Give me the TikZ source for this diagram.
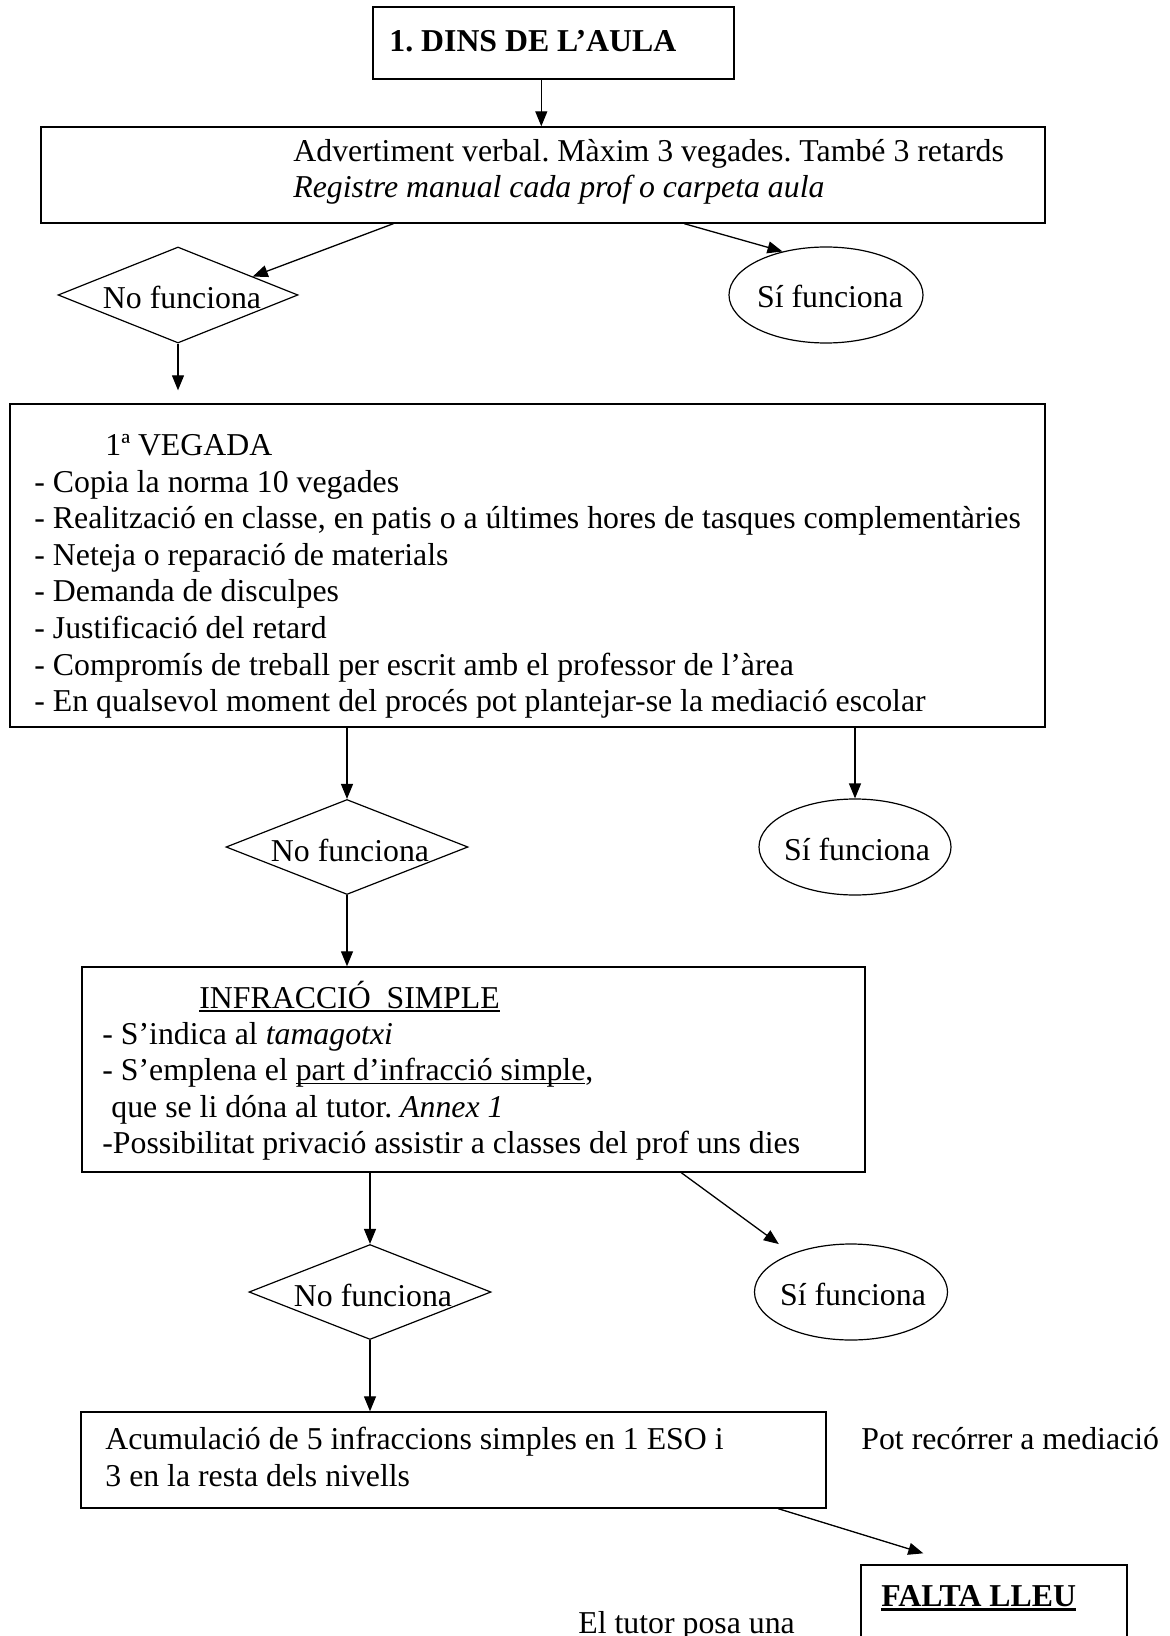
\documentclass[tikz,border=0pt]{standalone}
\usepackage{fontspec}
\setmainfont{Liberation Serif}
\usetikzlibrary{shapes.geometric,arrows.meta,calc}
\frenchspacing
\newcommand\myul[1]{\leavevmode\setbox0=\hbox{#1}\rlap{\rule[-1.8pt]{\wd0}{0.7pt}}\box0}
\newcommand\myulb[1]{\leavevmode\setbox0=\hbox{#1}\rlap{\rule[-2.6pt]{\wd0}{1.4pt}}\box0}
\tikzset{
  every node/.style={font=\fontsize{15.9pt}{18.35pt}\selectfont},
  box/.style={draw, rectangle, line width=0.7pt, inner sep=0pt},
  dec/.style={draw, diamond, line width=0.6pt, inner sep=0pt},
  oval/.style={draw, ellipse, line width=0.6pt, inner sep=0pt},
  txt/.style={anchor=base west, inner sep=0pt},
  ctxt/.style={anchor=base, inner sep=0pt},
  arr/.style={line width=0.65pt, -{Triangle[length=7.5pt,width=6pt]}}
}
\begin{document}
\begin{tikzpicture}[x=0.5pt,y=-0.5pt]
\fill[white] (0,0) rectangle (1170,1636);
\useasboundingbox (0,0) rectangle (1170,1636);

% boxes
\node[box, minimum width=180.5pt, minimum height=36pt] (b1) at (553.5,43) {};
\node[box, minimum width=502pt, minimum height=48pt] (b2) at (543,175) {};
\node[box, minimum width=517.5pt, minimum height=161.5pt] (b3) at (527.5,565.5) {};
\node[box, minimum width=391.5pt, minimum height=102.5pt] (b4) at (473.5,1069.5) {};
\node[box, minimum width=372.5pt, minimum height=48pt] (b5) at (453.5,1460) {};
\node[box, minimum width=133pt, minimum height=77.5pt] (b6) at (994,1642.5) {};

% decisions
\node[dec, minimum width=120pt, minimum height=48pt] (d1) at (178,295) {};
\node[dec, minimum width=121pt, minimum height=47.5pt] (d2) at (347,847) {};
\node[dec, minimum width=121pt, minimum height=47.5pt] (d3) at (370,1292) {};

% ellipses
\node[oval, minimum width=97pt, minimum height=48pt] (e1) at (826,295) {};
\node[oval, minimum width=96pt, minimum height=48pt] (e2) at (855,847) {};
\node[oval, minimum width=96.5pt, minimum height=48pt] (e3) at (851,1292) {};

% texts
\node[txt] (t1) at (389,52) {\bfseries 1. DINS DE L’AULA};
\node[txt] (t2a) at (293,162) {Advertiment verbal. Màxim 3 vegades. També 3 retards};
\node[txt] (t2b) at (293,198) {\itshape Registre manual cada prof o carpeta aula};

\node[ctxt] (nd1) at (182,309) {No funciona};
\node[ctxt] (nd2) at (350,861) {No funciona};
\node[ctxt] (nd3) at (373,1306) {No funciona};
\node[ctxt] (ne1) at (830,308) {Sí funciona};
\node[ctxt] (ne2) at (857,860) {Sí funciona};
\node[ctxt] (ne3) at (853,1305) {Sí funciona};

\node[txt] (l0) at (105,455) {1ª VEGADA};
\node[txt] (l1) at (34,492) {- Copia la norma 10 vegades};
\node[txt] (l2) at (34,528.6) {- Realització en classe, en patis o a últimes hores de tasques complementàries};
\node[txt] (l3) at (34,565.2) {- Neteja o reparació de materials};
\node[txt] (l4) at (34,601.8) {- Demanda de disculpes};
\node[txt] (l5) at (34,638.4) {- Justificació del retard};
\node[txt] (l6) at (34,675) {- Compromís de treball per escrit amb el professor de l’àrea};
\node[txt] (l7) at (34,711.6) {- En qualsevol moment del procés pot plantejar-se la mediació escolar};

\node[txt] (m0) at (199,1008) {\myul{INFRACCIÓ\ \ SIMPLE}};
\node[txt] (m1) at (102,1044) {- S’indica al \textit{tamagotxi}};
\node[txt] (m2) at (102,1080.5) {- S’emplena el \myul{part d’infracció simple},};
\node[txt] (m3) at (111,1117) {que se li dóna al tutor. \textit{Annex 1}};
\node[txt] (m4) at (102,1153) {-Possibilitat privació assistir a classes del prof uns dies};

\node[txt] (n1) at (105,1449) {Acumulació de 5 infraccions simples en 1 ESO i};
\node[txt] (n2) at (105,1486) {3 en la resta dels nivells};
\node[txt] (pot) at (861,1449) {Pot recórrer a mediació};
\node[txt] (fl) at (881,1606) {\myulb{\bfseries FALTA LLEU}};
\node[txt] (tut) at (578,1633) {El tutor posa una};

% connectors
\draw[arr] ($(b1.south west)+(169,0)$) -- ($(b2.north west)+(501,0)$);
\draw[arr] ($(b2.south west)+(353,0)$) -- ($(d1.north)!0.62!(d1.east)$);
\draw[arr] ($(b2.south west)+(644,0)$) -- (e1.135);
\draw[arr, shorten >=6.5pt] (d1.south) -- (d1.south |- b3.north);
\draw[arr] (d2.north |- b3.south) -- (d2.north);
\draw[arr] (e2.north |- b3.south) -- (e2.north);
\draw[arr] (d2.south) -- (d2.south |- b4.north);
\draw[arr] (d3.north |- b4.south) -- (d3.north);
\draw[arr, shorten >=8pt] ($(b4.south west)+(600,0)$) -- (e3.147);
\draw[arr] (d3.south) -- (d3.south |- b5.north);
\draw[arr] ($(b5.south west)+(698,0)$) -- ($(b6.north west)+(63,-11)$);
\end{tikzpicture}
\end{document}
